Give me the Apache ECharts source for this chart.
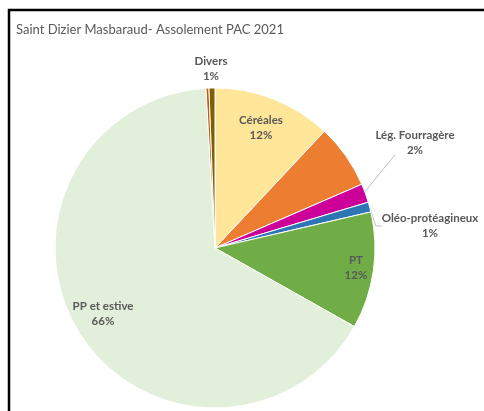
<!DOCTYPE html>
<html>
<head>
<meta charset="utf-8">
<script src="https://cdn.jsdelivr.net/npm/echarts@6/dist/echarts.min.js"></script>
<style>
  html, body { margin: 0; padding: 0; background: #fff; }
  #chart { width: 484px; height: 411px; }
</style>
</head>
<body>
<div id="chart"></div>
<script>
// slices, clockwise from 12 o'clock (share of the area, %)
const names = ['Céréales', 'Autres', 'Lég. Fourragère', 'Oléo-protéagineux', 'PT', 'PP et estive', 'Autres divers', 'Divers'];
const values = [12.0, 6.5, 1.9, 1.0, 11.8, 66.0, 0.3, 0.6];
const colors = ['#FFE699', '#ED7D31', '#CC0099', '#2E75B6', '#70AD47', '#E2EFDA', '#C55A11', '#7F6000'];
const showLabel = [true, false, true, true, true, true, false, true];
const insideLabel = [true, false, false, false, true, true, false, false];

// where Excel put the data labels (label centres, px) and their leader lines
const labelPos = [[261, 128], null, [415, 143], [430, 226], [356, 268], [103, 314], null, [211, 69]];
const leaderLines = { 2: [[365, 192], [380, 173], [395, 155]] };

const chart = echarts.init(document.getElementById('chart'));

const data = names.map((n, i) => ({
  name: n,
  value: values[i],
  itemStyle: { color: colors[i] },
  label: { show: showLabel[i], position: insideLabel[i] ? 'inside' : 'outside' },
  labelLine: { show: showLabel[i] && !insideLabel[i] && n !== 'Divers' }
}));

chart.setOption({
  animation: false,
  title: {
    text: 'Saint Dizier Masbaraud- Assolement PAC 2021',
    left: 11,
    top: 18,
    textStyle: { fontFamily: 'Lato', fontSize: 13, fontWeight: 'normal', color: '#595959' }
  },
  graphic: [{
    type: 'rect',
    shape: { x: 9, y: 10, width: 600, height: 600 },
    style: { fill: 'none', stroke: '#000', lineWidth: 2.5 },
    silent: true
  }],
  series: [{
    type: 'pie',
    center: [215, 248],
    radius: [0, 160],
    startAngle: 90,
    clockwise: true,
    avoidLabelOverlap: false,
    itemStyle: { borderColor: '#fff', borderWidth: 1 },
    label: {
      fontFamily: 'Lato',
      fontSize: 11.5,
      fontWeight: 'bold',
      color: '#595959',
      lineHeight: 15,
      align: 'center',
      formatter: p => p.name + '\n' + Math.round(p.percent) + '%'
    },
    labelLine: { lineStyle: { color: '#BFBFBF', width: 1 }, length: 8, length2: 6 },
    labelLayout: p => {
      const pos = labelPos[p.dataIndex];
      if (!pos) return {};
      const out = { x: pos[0], y: pos[1], align: 'center', verticalAlign: 'middle' };
      if (leaderLines[p.dataIndex]) out.labelLinePoints = leaderLines[p.dataIndex];
      return out;
    },
    data: data
  }]
});
</script>
</body>
</html>
